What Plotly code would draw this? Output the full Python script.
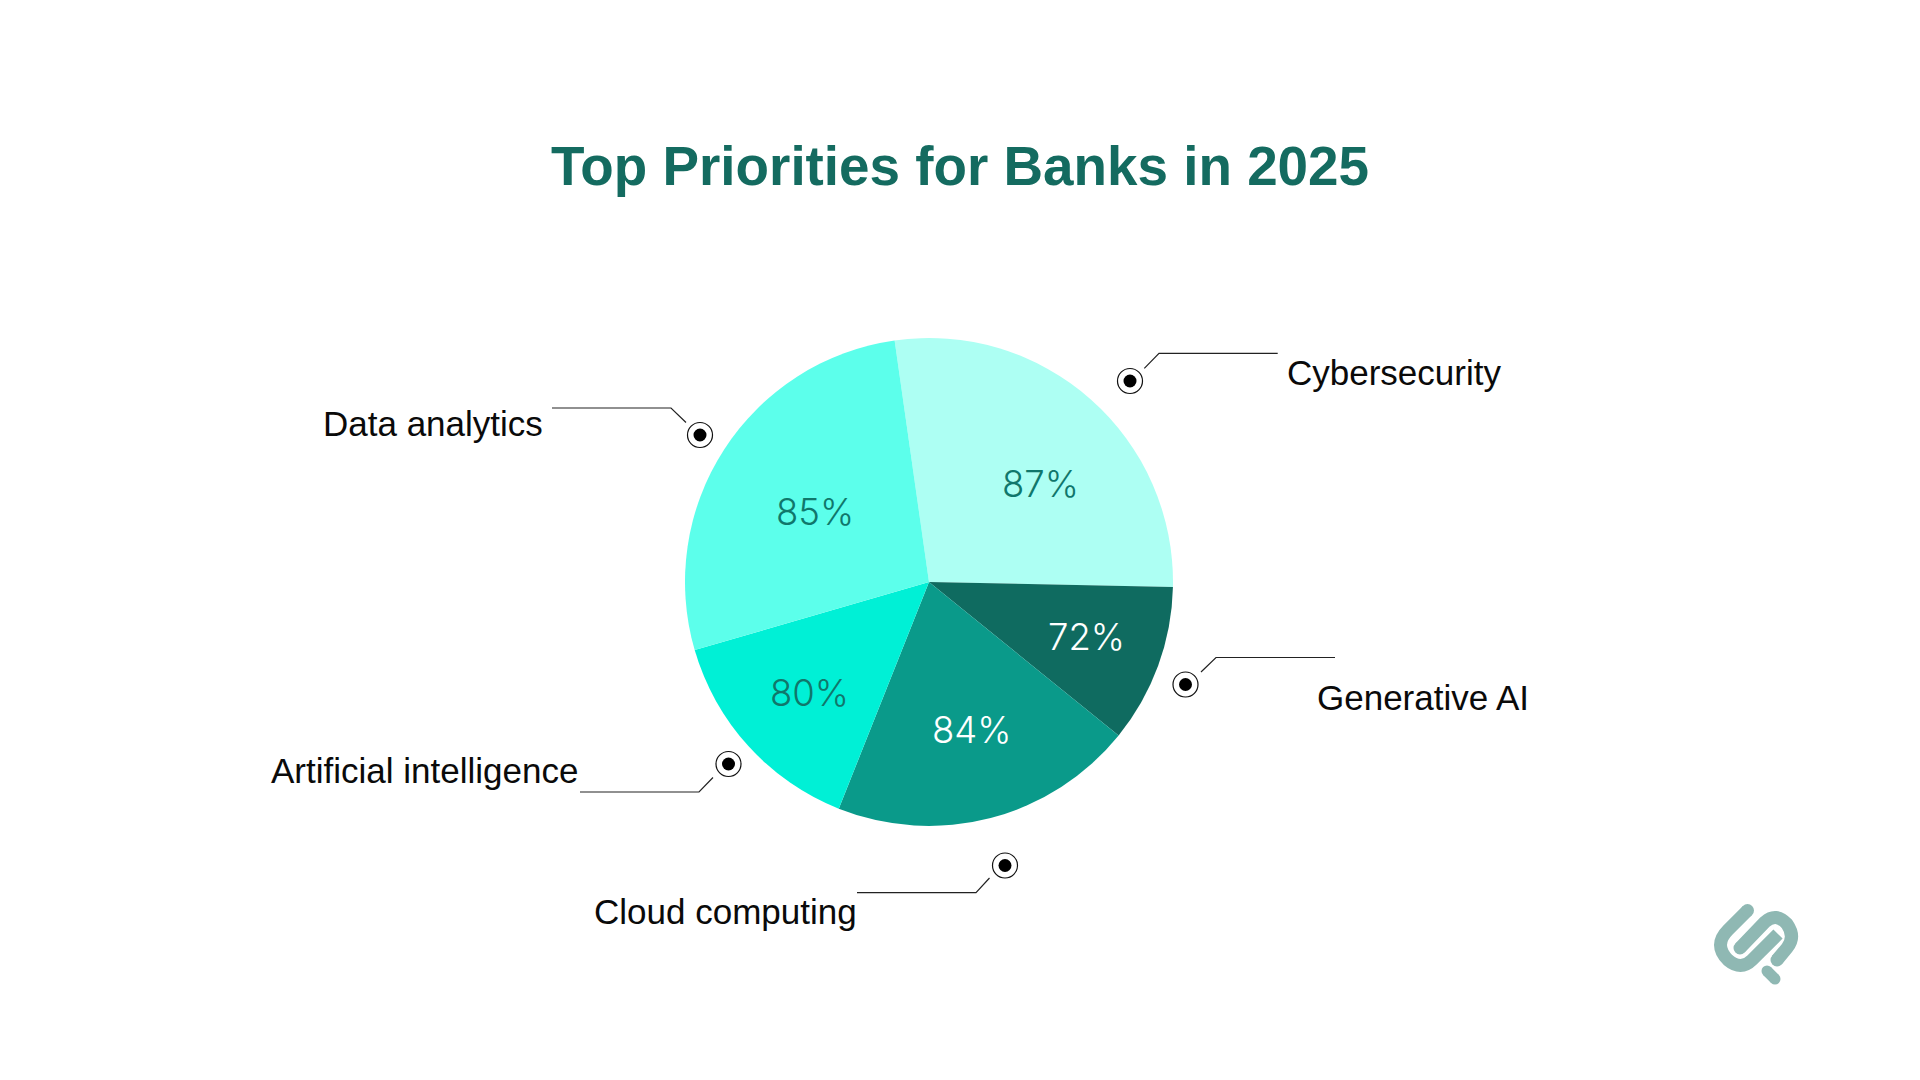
import plotly.graph_objects as go

# slice order is clockwise starting from Cybersecurity
labels = ["Cybersecurity", "Generative AI", "Cloud computing", "Artificial intelligence", "Data analytics"]
percents = [87, 72, 84, 80, 85]
# the drawn slices are not proportional to the percents, these are the angles read off the picture
slice_degrees = [99.3, 37.8, 72.7, 52.1, 98.1]
colors = ["#ADFFF3", "#0F6B60", "#0A9A8A", "#00F0D6", "#5CFFEB"]
text_colors = ["#10776B", "#FFFFFF", "#FFFFFF", "#10776B", "#10776B"]

W = 1920
H = 1080
cx = 929
cy = 582
r = 244

fig = go.Figure()
fig.add_trace(go.Pie(
    labels=labels,
    values=slice_degrees,
    customdata=percents,
    sort=False,
    direction="clockwise",
    rotation=-8.1,
    marker=dict(colors=colors, line=dict(width=0)),
    textinfo="none",
    hovertemplate="%{label}: %{customdata}%<extra></extra>",
    domain=dict(x=[(cx - r) / W, (cx + r) / W], y=[1 - (cy + r) / H, 1 - (cy - r) / H]),
    showlegend=False,
))

# percent labels, offset from the pie centre
pct_offsets = [(111, -98), (157, 55), (42, 148), (-120, 111), (-114, -70)]
for p, off, c in zip(percents, pct_offsets, text_colors):
    fig.add_annotation(x=cx + off[0], y=cy + off[1], text=str(p) + "%", showarrow=False,
                       font=dict(family="Inter", size=36.5, color=c, weight=300))

# category labels: x, y, anchor
label_pos = [(1285, 372, "left"), (1315, 697, "left"), (859, 911, "right"), (580, 770, "right"), (545, 423, "right")]
for lab, pos in zip(labels, label_pos):
    fig.add_annotation(x=pos[0], y=pos[1], text=lab, showarrow=False, xanchor=pos[2],
                       font=dict(family="Liberation Sans", size=35, color="#0A0A0A"))

# target dots and leader lines
dots = [(1130, 381), (1185.5, 684.5), (1005, 865.5), (728.5, 764), (700, 435)]
leaders = [
    "M1144.3,368.3 L1159,353.3 L1277.7,353.3",
    "M1201,672 L1216,657.5 L1335,657.5",
    "M989.5,878 L976,892.6 L857,892.6",
    "M713,777.5 L699,792 L580,792",
    "M686,422.5 L671,408 L552,408",
]
shapes = []
for d, path in zip(dots, leaders):
    shapes.append(dict(type="circle", xref="x", yref="y", x0=d[0] - 12.5, x1=d[0] + 12.5, y0=d[1] - 12.5, y1=d[1] + 12.5,
                       line=dict(color="#111111", width=1.2), fillcolor="#FFFFFF"))
    shapes.append(dict(type="circle", xref="x", yref="y", x0=d[0] - 6.5, x1=d[0] + 6.5, y0=d[1] - 6.5, y1=d[1] + 6.5,
                       line=dict(width=0), fillcolor="#000000"))
    shapes.append(dict(type="path", xref="x", yref="y", path=path, line=dict(color="#222222", width=1.2)))

# logo in the corner
logo = "#8FB8B3"
shapes.append(dict(type="path", xref="x", yref="y", line=dict(color=logo, width=13),
                   path="M1747.5,910.5 L1728,930 Q1713,945 1728,960 Q1741,971 1752,960 L1778,934"))
shapes.append(dict(type="path", xref="x", yref="y", line=dict(color=logo, width=13),
                   path="M1740,948 L1765,922 Q1776,912 1787,924 Q1796,937 1787,948 L1777,960"))
shapes.append(dict(type="path", xref="x", yref="y", line=dict(color=logo, width=11),
                   path="M1767,971 L1775,979"))
# rounded stroke ends for the logo
for x, y, rad in [(1747.5, 910.5, 6.5), (1740, 948, 6.5), (1777, 960, 6.5), (1767, 971, 5.5), (1775, 979, 5.5)]:
    shapes.append(dict(type="circle", xref="x", yref="y", x0=x - rad, x1=x + rad, y0=y - rad, y1=y + rad,
                       line=dict(width=0), fillcolor=logo))

fig.update_layout(
    width=W,
    height=H,
    margin=dict(l=0, r=0, t=0, b=0),
    paper_bgcolor="#FFFFFF",
    plot_bgcolor="#FFFFFF",
    shapes=shapes,
    xaxis=dict(range=[0, W], visible=False, fixedrange=True),
    yaxis=dict(range=[H, 0], visible=False, fixedrange=True),
    title=dict(text="<b>Top Priorities for Banks in 2025</b>", x=0.5, xanchor="center", y=1 - 166 / H, yanchor="middle",
               font=dict(family="Liberation Sans", size=54.8, color="#146B60")),
)

fig.write_html("out.html", config=dict(displayModeBar=False),
               post_script="document.body.style.margin='0';document.body.style.overflow='hidden';")
